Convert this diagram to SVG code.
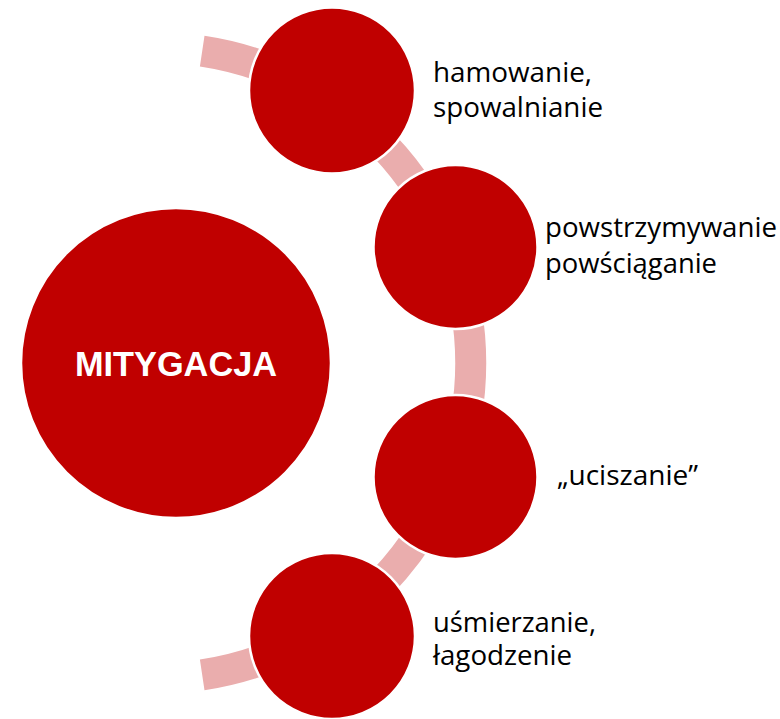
<svg xmlns="http://www.w3.org/2000/svg" width="780" height="719" viewBox="0 0 780 719">
<style>
.bg{fill:#ffffff}
.arc{fill:none;stroke:#EAADAD;stroke-width:31;stroke-linecap:butt}
.node{fill:#C00000;stroke:#ffffff;stroke-width:2.5}
.lbl{font-family:"Open Sans","Liberation Sans",sans-serif;font-size:27px;fill:#000000}
.main{font-family:"Liberation Sans","Open Sans",sans-serif;font-size:35px;font-weight:bold;fill:#ffffff}
</style>
<rect class="bg" x="0" y="0" width="780" height="719"/>
<g id="connectors">
<path class="arc" d="M 202.2 51.1 A 315.4 315.4 0 0 1 202.2 674.9"/>
</g>
<g id="node-mitygacja">
<circle class="node" cx="176" cy="363" r="155"/>
<text class="main" x="176" y="375.5" text-anchor="middle" textLength="202" lengthAdjust="spacingAndGlyphs">MITYGACJA</text>
</g>
<g id="node-hamowanie">
<circle class="node" cx="332" cy="90.5" r="83"/>
<text class="lbl" x="433" y="81.5" textLength="159" lengthAdjust="spacingAndGlyphs">hamowanie,</text>
<text class="lbl" x="433" y="117" textLength="170" lengthAdjust="spacingAndGlyphs">spowalnianie</text>
</g>
<g id="node-powstrzymywanie">
<circle class="node" cx="455.5" cy="247" r="82"/>
<text class="lbl" x="545" y="236.5" textLength="232" lengthAdjust="spacingAndGlyphs">powstrzymywanie</text>
<text class="lbl" x="545" y="273" textLength="172" lengthAdjust="spacingAndGlyphs">powściąganie</text>
</g>
<g id="node-uciszanie">
<circle class="node" cx="455.5" cy="477" r="82"/>
<text class="lbl" x="557" y="485" textLength="141" lengthAdjust="spacingAndGlyphs">„uciszanie”</text>
</g>
<g id="node-usmierzanie">
<circle class="node" cx="332" cy="636" r="83"/>
<text class="lbl" x="433" y="631.5" textLength="163" lengthAdjust="spacingAndGlyphs">uśmierzanie,</text>
<text class="lbl" x="433" y="665" textLength="139" lengthAdjust="spacingAndGlyphs">łagodzenie</text>
</g>
</svg>
